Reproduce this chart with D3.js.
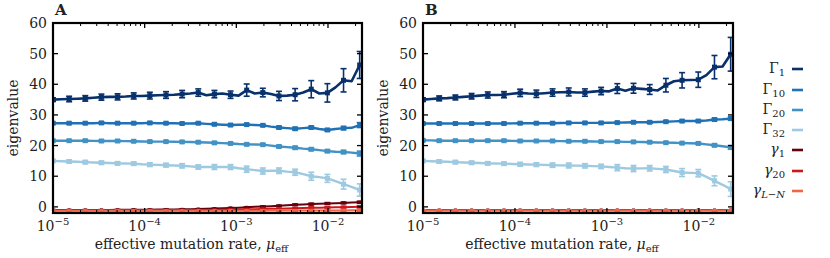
<!DOCTYPE html>
<html><head><meta charset="utf-8">
<script src="https://cdn.jsdelivr.net/npm/d3@7"></script>
<style>
html,body{margin:0;padding:0;background:#fff;}
svg{display:block;}
text{font-family:"DejaVu Serif","Liberation Serif",serif;fill:#222;}
</style></head>
<body>
<svg id="chart" width="830" height="258"></svg>
<script>
// ---------- DATA ----------
const mu = [1.000e-5,1.225e-5,1.500e-5,1.837e-5,2.250e-5,2.756e-5,3.375e-5,4.134e-5,5.063e-5,6.200e-5,
  7.594e-5,9.301e-5,1.139e-4,1.395e-4,1.709e-4,2.093e-4,2.563e-4,3.139e-4,3.844e-4,4.708e-4,
  5.767e-4,7.063e-4,8.650e-4,1.059e-3,1.297e-3,1.589e-3,1.946e-3,2.384e-3,2.919e-3,3.575e-3,
  4.379e-3,5.363e-3,6.568e-3,8.044e-3,9.853e-3,1.207e-2,1.478e-2,1.810e-2,2.217e-2];

const seriesNames = ["Γ1","Γ10","Γ20","Γ32","γ1","γ20","γL−N"];
const seriesColors = ["#08306b","#2171b5","#4292c6","#9ecae1","#67000d","#cb181d","#ef6548"];

// Panel A values (39 points each)
const A_G1  = [35.0,35.1,35.2,35.3,35.4,35.6,35.8,35.9,35.9,36.0,36.2,36.2,36.3,36.4,36.5,36.6,36.8,37.0,37.3,36.4,
  36.8,37.0,36.6,36.3,38.1,37.0,37.3,36.8,36.2,36.3,36.6,37.3,38.4,37.0,37.2,39.0,41.3,41.0,46.3];
const A_G10 = [27.3,27.3,27.3,27.3,27.3,27.3,27.4,27.3,27.3,27.3,27.3,27.3,27.4,27.3,27.3,27.3,27.2,27.2,27.3,27.1,
  26.95,26.8,26.7,26.8,26.85,26.7,26.6,26.2,25.9,25.7,25.5,25.7,25.9,25.4,25.1,25.4,25.7,25.8,26.7];
const A_G20 = [21.6,21.6,21.6,21.6,21.6,21.55,21.5,21.5,21.5,21.45,21.4,21.35,21.3,21.3,21.3,21.25,21.2,21.15,21.1,21.0,
  20.9,20.8,20.7,20.5,20.4,20.35,20.3,20.0,19.7,19.5,19.3,19.0,18.8,18.5,18.2,18.0,17.9,17.7,17.4];
const A_G32 = [15.0,14.9,14.8,14.7,14.6,14.5,14.4,14.3,14.2,14.15,14.1,13.9,13.8,13.7,13.6,13.5,13.4,13.2,13.0,13.0,
  13.0,13.0,13.0,12.6,12.3,12.0,11.7,11.8,11.8,11.5,11.3,10.7,10.0,9.7,9.3,8.4,7.4,6.5,5.5];
const A_g1  = [-1.0,-1.0,-1.0,-1.0,-1.0,-1.0,-1.0,-1.0,-0.95,-0.92,-0.9,-0.9,-0.9,-0.88,-0.85,-0.82,-0.8,-0.75,-0.7,-0.62,
  -0.55,-0.45,-0.35,-0.25,-0.15,0.0,0.1,0.22,0.35,0.5,0.7,0.8,0.9,1.0,1.1,1.2,1.3,1.4,1.5];
const A_g20 = [-1.1,-1.1,-1.1,-1.1,-1.1,-1.1,-1.1,-1.1,-1.1,-1.1,-1.1,-1.1,-1.1,-1.1,-1.08,-1.06,-1.05,-1.04,-1.03,-1.02,
  -1.0,-0.95,-0.9,-0.85,-0.8,-0.75,-0.7,-0.65,-0.6,-0.5,-0.45,-0.38,-0.3,-0.25,-0.2,-0.15,-0.1,-0.05,0.0];
const A_gLN = [-1.25,-1.25,-1.25,-1.25,-1.25,-1.25,-1.25,-1.25,-1.25,-1.25,-1.25,-1.25,-1.25,-1.25,-1.25,-1.25,-1.25,-1.25,-1.25,-1.25,
  -1.25,-1.25,-1.25,-1.24,-1.24,-1.23,-1.23,-1.22,-1.22,-1.21,-1.2,-1.2,-1.19,-1.18,-1.17,-1.16,-1.15,-1.13,-1.1];

// Panel A error half-widths at every second point (20 points)
const A_G1_err  = [0.6,0.9,0.9,1.0,1.0,1.0,1.1,1.1,1.2,1.2,1.2,1.2,2.0,1.4,1.5,2.0,2.8,3.0,3.8,4.4];
const A_G10_err = [0.3,0.3,0.3,0.3,0.3,0.3,0.3,0.3,0.3,0.3,0.3,0.3,0.3,0.3,0.4,0.4,0.4,0.4,0.5,0.8];
const A_G20_err = [0.3,0.3,0.3,0.3,0.3,0.3,0.3,0.3,0.3,0.3,0.3,0.3,0.3,0.3,0.4,0.4,0.4,0.4,0.5,0.8];
const A_G32_err = [0.4,0.5,0.5,0.5,0.5,0.5,0.6,0.6,0.7,0.7,0.8,0.8,1.0,1.0,0.9,1.0,1.3,1.3,1.6,2.0];
const A_g_err   = [0.1,0.1,0.1,0.1,0.1,0.1,0.1,0.1,0.1,0.1,0.1,0.15,0.15,0.2,0.2,0.25,0.3,0.3,0.3,0.35];

// Panel B values
const B_G1  = [35.0,35.2,35.4,35.5,35.7,35.9,36.1,36.3,36.5,36.5,36.6,36.9,37.2,37.0,36.9,37.1,37.3,37.4,37.5,37.3,
  37.3,37.6,37.8,37.7,38.6,37.9,38.7,38.5,38.3,38.0,39.7,41.0,41.3,41.4,41.5,43.0,45.6,45.8,49.8];
const B_G10 = [27.2,27.2,27.2,27.2,27.2,27.2,27.2,27.2,27.2,27.2,27.2,27.25,27.3,27.3,27.3,27.3,27.3,27.35,27.4,27.4,
  27.4,27.4,27.4,27.45,27.5,27.55,27.6,27.6,27.6,27.7,27.8,27.9,28.0,28.0,28.0,28.2,28.5,28.6,28.8];
const B_G20 = [21.7,21.7,21.6,21.6,21.6,21.6,21.6,21.6,21.6,21.6,21.6,21.55,21.5,21.5,21.5,21.5,21.5,21.45,21.4,21.4,
  21.4,21.35,21.3,21.3,21.3,21.2,21.2,21.15,21.1,21.0,20.95,20.9,20.8,20.75,20.7,20.4,20.1,19.8,19.4];
const B_G32 = [15.0,14.9,14.8,14.7,14.6,14.5,14.4,14.3,14.2,14.15,14.1,14.0,13.9,13.85,13.8,13.7,13.6,13.55,13.5,13.45,
  13.4,13.3,13.2,13.0,12.8,12.6,12.5,12.55,12.6,12.4,12.2,11.7,11.2,11.1,11.0,9.8,8.5,7.2,5.8];
const B_g1  = [-1.05,-1.05,-1.05,-1.05,-1.05,-1.05,-1.05,-1.05,-1.05,-1.05,-1.05,-1.05,-1.05,-1.05,-1.05,-1.05,-1.05,-1.05,-1.05,-1.05,
  -1.05,-1.05,-1.05,-1.05,-1.05,-1.05,-1.05,-1.05,-1.05,-1.05,-1.05,-1.05,-1.05,-1.05,-1.05,-1.05,-1.05,-1.05,-1.05];
const B_g20 = [-1.1,-1.1,-1.1,-1.1,-1.1,-1.1,-1.1,-1.1,-1.1,-1.1,-1.1,-1.1,-1.1,-1.1,-1.1,-1.1,-1.1,-1.1,-1.1,-1.1,
  -1.1,-1.1,-1.1,-1.1,-1.1,-1.1,-1.1,-1.1,-1.1,-1.1,-1.1,-1.1,-1.1,-1.1,-1.1,-1.1,-1.1,-1.1,-1.1];
const B_gLN = [-1.15,-1.15,-1.15,-1.15,-1.15,-1.15,-1.15,-1.15,-1.15,-1.15,-1.15,-1.15,-1.15,-1.15,-1.15,-1.15,-1.15,-1.15,-1.15,-1.15,
  -1.15,-1.15,-1.15,-1.15,-1.15,-1.15,-1.15,-1.15,-1.15,-1.15,-1.15,-1.15,-1.15,-1.15,-1.15,-1.15,-1.15,-1.15,-1.15];

const B_G1_err  = [0.6,0.8,0.8,0.9,1.0,1.0,1.2,1.2,1.2,1.3,1.2,1.2,1.6,1.6,1.6,2.2,2.5,2.5,3.8,5.5];
const B_G10_err = [0.3,0.3,0.3,0.3,0.3,0.3,0.3,0.3,0.3,0.3,0.3,0.3,0.3,0.3,0.3,0.3,0.3,0.3,0.4,0.5];
const B_G20_err = [0.3,0.3,0.3,0.3,0.3,0.3,0.3,0.3,0.3,0.3,0.3,0.3,0.3,0.3,0.3,0.3,0.3,0.3,0.4,0.6];
const B_G32_err = [0.4,0.5,0.5,0.5,0.5,0.5,0.6,0.6,0.7,0.8,0.7,0.7,1.0,1.0,0.9,1.0,1.3,1.2,1.6,2.4];
const B_g_err   = [0.1,0.1,0.1,0.1,0.1,0.1,0.1,0.1,0.1,0.1,0.1,0.1,0.1,0.1,0.1,0.1,0.1,0.1,0.1,0.1];

const yTicks = [0,10,20,30,40,50,60];
const xTickExps = [-5,-4,-3,-2];
const panelLabels = ["A","B"];
const xLabel = "effective mutation rate, ";
const yLabel = "eigenvalue";

// ---------- DRAW ----------
const svg = d3.select("#chart");
const panels = [
  {left:53, right:362,
   series:[A_G1,A_G10,A_G20,A_G32,A_g1,A_g20,A_gLN],
   errs:[A_G1_err,A_G10_err,A_G20_err,A_G32_err,A_g_err,A_g_err,A_g_err]},
  {left:423, right:733,
   series:[B_G1,B_G10,B_G20,B_G32,B_g1,B_g20,B_gLN],
   errs:[B_G1_err,B_G10_err,B_G20_err,B_G32_err,B_g_err,B_g_err,B_g_err]}
];
const pTop = 23, pBottom = 213;
const FS = 14;

panels.forEach((p, pi) => {
  const x = d3.scaleLog().domain([1e-5, 0.0235]).range([p.left, p.right]);
  const y = d3.scaleLinear().domain([-2, 60]).range([pBottom, pTop]);
  const g = svg.append("g");
  const clipId = "clip" + pi;
  svg.append("defs").append("clipPath").attr("id", clipId)
    .append("rect").attr("x", p.left).attr("y", pTop).attr("width", p.right - p.left).attr("height", pBottom - pTop);
  const plot = g.append("g").attr("clip-path", `url(#${clipId})`);

  const order = [4,5,6,3,2,1,0];
  order.forEach(si => {
    const vals = p.series[si];
    const col = seriesColors[si];
    const lw = si === 0 ? 2.6 : (si < 4 ? 2.4 : 2.0);
    const line = d3.line().x((d,i) => x(mu[i])).y(d => y(d));
    plot.append("path").datum(vals).attr("d", line)
      .attr("fill","none").attr("stroke", col).attr("stroke-width", lw).attr("stroke-linejoin","round");
    const errs = p.errs[si];
    const pts = errs.map((e, j) => ({m: mu[j*2], v: vals[j*2], e}));
    const eg = plot.append("g").attr("stroke", col).attr("stroke-width", 1.6);
    pts.forEach(d => {
      const cx = x(d.m), y0 = y(d.v - d.e), y1 = y(d.v + d.e);
      eg.append("line").attr("x1",cx).attr("x2",cx).attr("y1",y0).attr("y2",y1);
      eg.append("line").attr("x1",cx-3).attr("x2",cx+3).attr("y1",y0).attr("y2",y0);
      eg.append("line").attr("x1",cx-3).attr("x2",cx+3).attr("y1",y1).attr("y2",y1);
    });
    const ms = si < 4 ? 5 : 3;
    plot.append("g").selectAll("rect").data(pts).join("rect")
      .attr("x", d => x(d.m) - ms/2).attr("y", d => y(d.v) - ms/2)
      .attr("width", ms).attr("height", ms).attr("fill", col);
  });

  const tg = g.append("g").attr("stroke","#000");
  yTicks.forEach(t => {
    const yy = y(t);
    tg.append("line").attr("x1",p.left).attr("x2",p.left+5).attr("y1",yy).attr("y2",yy).attr("stroke-width",1.3);
    tg.append("line").attr("x1",p.right).attr("x2",p.right-5).attr("y1",yy).attr("y2",yy).attr("stroke-width",1.3);
    g.append("text").attr("x", p.left - 6).attr("y", yy).attr("dy","0.36em")
      .attr("text-anchor","end").attr("font-size", FS).text(t);
  });
  const majors = xTickExps.map(e => Math.pow(10, e));
  const minors = [];
  for (let e = -5; e <= -2; e++) for (let k = 2; k <= 9; k++) {
    const v = k * Math.pow(10, e);
    if (v <= 0.0235) minors.push(v);
  }
  majors.forEach(v => {
    const xx = x(v);
    tg.append("line").attr("x1",xx).attr("x2",xx).attr("y1",pBottom).attr("y2",pBottom-5).attr("stroke-width",1.3);
    tg.append("line").attr("x1",xx).attr("x2",xx).attr("y1",pTop).attr("y2",pTop+5).attr("stroke-width",1.3);
  });
  minors.forEach(v => {
    const xx = x(v);
    tg.append("line").attr("x1",xx).attr("x2",xx).attr("y1",pBottom).attr("y2",pBottom-3).attr("stroke-width",1);
    tg.append("line").attr("x1",xx).attr("x2",xx).attr("y1",pTop).attr("y2",pTop+3).attr("stroke-width",1);
  });
  xTickExps.forEach(e => {
    const t = g.append("text").attr("x", x(Math.pow(10,e))).attr("y", 231)
      .attr("text-anchor","middle").attr("font-size",FS);
    t.append("tspan").text("10");
    t.append("tspan").attr("dy",-6).attr("font-size",10).text("−" + Math.abs(e));
  });

  g.append("rect").attr("x",p.left).attr("y",pTop).attr("width",p.right-p.left).attr("height",pBottom-pTop)
    .attr("fill","none").attr("stroke","#000").attr("stroke-width",2.2);

  const cx = (p.left + p.right)/2 - 16;
  const xl = g.append("text").attr("x", cx).attr("y", 249).attr("text-anchor","middle")
    .attr("font-size",FS);
  xl.append("tspan").text(xLabel);
  xl.append("tspan").attr("font-style","italic").text("μ");
  xl.append("tspan").attr("dy",3).attr("font-size",10).text("eff");
  g.append("text").attr("transform",`translate(${p.left-35},${(pTop+pBottom)/2}) rotate(-90)`)
    .attr("text-anchor","middle").attr("font-size",FS).text(yLabel);

  g.append("text").attr("x", p.left + 2).attr("y", 15).attr("font-size",15).attr("font-weight","bold")
    .text(panelLabels[pi]);
});

const legRows = [69, 90, 110, 130, 150, 171, 191];
const lg = svg.append("g");
seriesNames.forEach((name, i) => {
  const yy = legRows[i];
  lg.append("line").attr("x1",792).attr("x2",803).attr("y1",yy).attr("y2",yy)
    .attr("stroke", seriesColors[i]).attr("stroke-width",2.6);
  const t = lg.append("text").attr("x",785).attr("y",yy).attr("dy","0.3em")
    .attr("text-anchor","end").attr("font-size",FS);
  const base = name[0];
  const sub = name.slice(1);
  t.append("tspan").attr("font-style", base === "γ" ? "italic" : "normal").text(base);
  t.append("tspan").attr("dy",3).attr("font-size",10)
    .attr("font-style", sub === "L−N" ? "italic" : "normal").text(sub);
});
</script>
</body></html>
